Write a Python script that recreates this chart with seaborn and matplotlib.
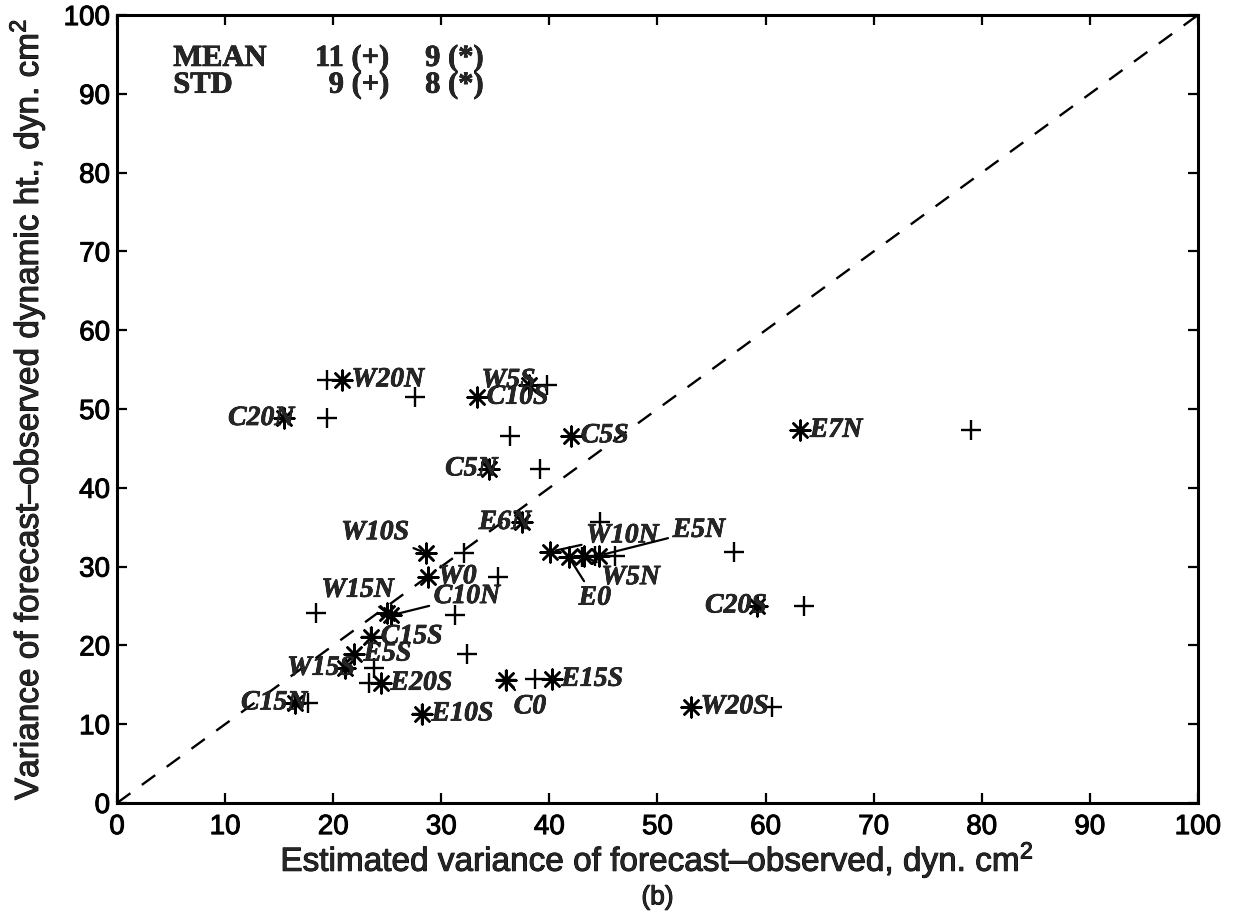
import matplotlib
matplotlib.use("Agg")
import matplotlib.pyplot as plt
import matplotlib.patheffects as pe
import numpy as np
import pandas as pd
import seaborn as sns

# Stations and variances (dyn. cm^2)
stations = ["W20N", "C20N", "W5S", "C10S", "C5S", "C5N", "E7N", "E6N", "W10S",
            "W10N", "E5N", "W0", "W5N", "E0", "W15N", "C10N", "C20S", "C15S",
            "E5S", "W15S", "E20S", "E15S", "C0", "C15N", "E10S", "W20S"]
# observed variance of forecast-observed dynamic height
obs_var = [53.7, 48.8, 53.0, 51.5, 46.6, 42.4, 47.3, 35.6, 31.7,
           31.9, 31.4, 28.7, 31.3, 31.2, 24.1, 23.8, 25.0, 21.1,
           18.9, 17.1, 15.2, 15.7, 15.6, 12.7, 11.3, 12.2]
# estimated variance, method (+)
est_plus = [19.4, 19.4, 39.8, 27.6, 36.4, 39.1, 79.0, 44.7, 32.1,
            57.1, 46.1, 35.2, 44.2, 43.0, 18.4, 31.3, 63.6, 23.5,
            32.4, 23.8, 23.3, 38.7, 36.0, 17.7, 28.2, 60.6]
# estimated variance, method (*)
est_star = [20.8, 15.4, 38.1, 33.3, 42.0, 34.4, 63.2, 37.5, 28.6,
            40.1, 44.6, 28.8, 43.2, 41.8, 25.0, 25.3, 59.2, 23.5,
            21.9, 21.1, 24.4, 40.2, 36.0, 16.5, 28.2, 53.1]

summary_rows = ["MEAN", "STD"]
summary_plus = ["11 (+)", "9 (+)"]
summary_star = ["9 (*)", "8 (*)"]

# label placement: station -> (text x, text y, alignment, leader)
label_layout = {
    "W20N": (21.7, 53.7, "left", False),
    "C20N": (16.4, 48.8, "right", False),
    "W5S": (38.7, 53.6, "right", False),
    "C10S": (34.2, 51.5, "left", False),
    "C5S": (42.9, 46.6, "left", False),
    "C5N": (35.2, 42.4, "right", False),
    "E7N": (64.1, 47.3, "left", False),
    "E6N": (38.3, 35.6, "right", False),
    "W10S": (27.0, 34.3, "right", True),
    "W10N": (43.4, 33.9, "left", True),
    "E5N": (51.4, 34.6, "left", True),
    "W0": (29.7, 28.7, "left", False),
    "W5N": (44.8, 28.6, "left", True),
    "E0": (42.7, 26.0, "left", True),
    "W15N": (25.6, 27.0, "right", True),
    "C10N": (29.3, 26.2, "left", True),
    "C20S": (60.1, 25.0, "right", False),
    "C15S": (24.4, 21.1, "left", False),
    "E5S": (22.8, 18.9, "left", False),
    "W15S": (22.0, 17.1, "right", False),
    "E20S": (25.3, 15.2, "left", False),
    "E15S": (41.1, 15.7, "left", False),
    "C0": (36.7, 12.2, "left", True),
    "C15N": (17.6, 12.7, "right", False),
    "E10S": (29.1, 11.3, "left", False),
    "W20S": (54.0, 12.2, "left", False),
}

df = pd.DataFrame({"station": stations, "obs": obs_var,
                   "plus": est_plus, "star": est_star})

sns.set_style("ticks")
plt.rcParams["font.family"] = ["Liberation Sans", "DejaVu Sans"]
plt.rcParams["mathtext.fontset"] = "custom"
plt.rcParams["mathtext.rm"] = "Liberation Sans"
plt.rcParams["mathtext.it"] = "Liberation Sans:italic"

heavy = [pe.withStroke(linewidth=0.7, foreground="k")]
heavy_serif = [pe.withStroke(linewidth=0.5, foreground="k")]

fig = plt.figure(figsize=(12.36, 9.13), dpi=100)
ax = fig.add_axes([0.0947, 0.1205, 0.8745, 0.863])

# one-to-one reference line
ax.plot([0, 100], [0, 100], color="k", lw=1.7, linestyle=(0, (7, 6)), zorder=1)

sns.scatterplot(data=df, x="plus", y="obs", marker="+", s=200, color="k",
                linewidth=1.7, ax=ax, zorder=3)
sns.scatterplot(data=df, x="star", y="obs", marker=(8, 2, 0), s=200, color="k",
                linewidth=1.8, ax=ax, zorder=3)

serif = ["Liberation Serif", "DejaVu Serif"]
for name, xs, yo in zip(df["station"], df["star"], df["obs"]):
    tx, ty, ha, leader = label_layout[name]
    if leader:
        ax.annotate(name, xy=(xs, yo), xytext=(tx, ty), ha=ha, va="center",
                    fontsize=20, fontweight="bold", fontstyle="italic",
                    family=serif, zorder=4, path_effects=heavy_serif,
                    arrowprops=dict(arrowstyle="-", lw=1.6, color="k",
                                    shrinkA=1, shrinkB=4))
    else:
        ax.text(tx, ty, name, ha=ha, va="center", fontsize=20,
                fontweight="bold", fontstyle="italic", family=serif, zorder=4,
                path_effects=heavy_serif)

# summary statistics block
for i, (r, p, s) in enumerate(zip(summary_rows, summary_plus, summary_star)):
    yy = 94.5 - 3.4 * i
    for txt, xx, ha in ((r, 5.2, "left"), (p, 25.2, "right"), (s, 28.5, "left")):
        ax.text(xx, yy, txt, ha=ha, va="center", fontsize=22, fontweight="bold",
                family=serif, path_effects=heavy_serif)

ax.set_xlim(0, 100)
ax.set_ylim(0, 100)
ax.set_xticks(np.arange(0, 101, 10))
ax.set_yticks(np.arange(0, 101, 10))
ax.tick_params(axis="both", which="both", direction="in", length=7, width=1.6,
               top=True, right=True, labelsize=20, colors="k")
ax.tick_params(axis="x", pad=8)
ax.tick_params(axis="y", pad=5)
for lab in ax.get_xticklabels() + ax.get_yticklabels():
    lab.set_path_effects(heavy)
for sp in ax.spines.values():
    sp.set_linewidth(2.2)
    sp.set_color("k")

ax.set_xlabel("Estimated variance of forecast\u2013observed, dyn. cm$^{2}$",
              fontsize=24, path_effects=heavy)
ax.set_ylabel("Variance of forecast\u2013observed dynamic ht., dyn. cm$^{2}$",
              fontsize=24, path_effects=heavy)
ax.xaxis.set_label_coords(0.5, -0.046)
ax.yaxis.set_label_coords(-0.064, 0.5)
fig.text(0.532, 0.004, "(b)", ha="center", va="bottom", fontsize=19,
         path_effects=heavy)

fig.savefig("out.png", dpi=100, facecolor="white")
